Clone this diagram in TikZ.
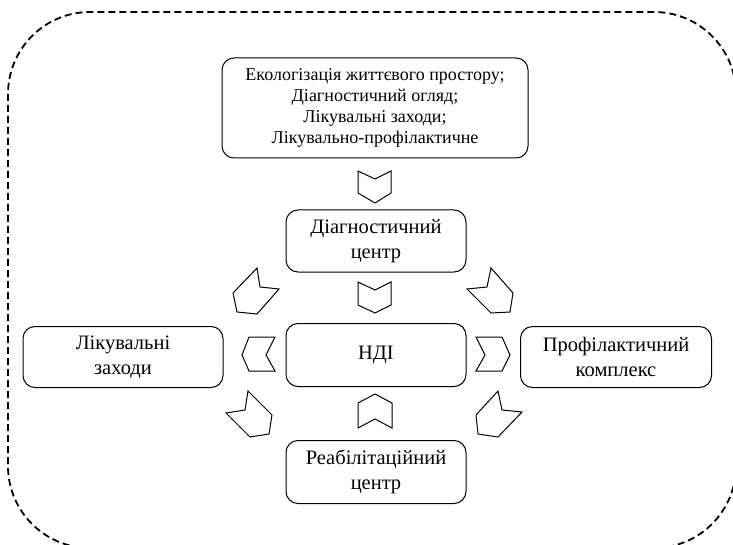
\documentclass[tikz,border=0pt]{standalone}
\usepackage{fontspec}
\setmainfont{Liberation Serif}
\begin{document}
\begin{tikzpicture}[x=1pt,y=-1pt,
  box/.style={draw, line width=1pt, rounded corners=12pt, align=center, font=\fontsize{20.5}{25}\selectfont},
  chev/.style={draw, line width=1pt, line join=miter}]
\useasboundingbox (0,0) rectangle (733,545);
\draw[line width=1.8pt, dash pattern=on 7pt off 4pt, rounded corners=82pt] (8,12) rectangle (736,548);
% boxes
\node[box, minimum width=306pt, minimum height=100pt, font=\fontsize{18}{21}\selectfont] (top) at (375,108)
  {Екологізація життєвого простору;\\Діагностичний огляд;\\Лікувальні заходи;\\Лікувально-профілактичне};
\node[box, minimum width=180pt, minimum height=62pt] (diag) at (376,241) {Діагностичний\\центр};
\node[box, minimum width=180pt, minimum height=63pt] (ndi) at (376,355) {НДІ};
\node[box, minimum width=200pt, minimum height=61pt] (lik) at (123,357) {Лікувальні\\заходи};
\node[box, minimum width=191pt, minimum height=61pt] (prof) at (616,357) {Профілактичний\\комплекс};
\node[box, minimum width=180pt, minimum height=63pt] (reab) at (376,472) {Реабілітаційний\\центр};
% vertical chevrons
\draw[chev] (358,171) -- (375,179) -- (391,171) -- (391,193) -- (375,203) -- (358,193) -- cycle;
\draw[chev] (358,282) -- (375,290) -- (391,282) -- (391,305) -- (375,313) -- (358,305) -- cycle;
\draw[chev] (375,394) -- (392,403) -- (392,428) -- (375,419) -- (358,428) -- (358,403) -- cycle;
% horizontal chevrons
\draw[chev] (242,355) -- (249,337) -- (275,337) -- (266,355) -- (275,371) -- (249,371) -- cycle;
\draw[chev] (476,337) -- (502,337) -- (510,355) -- (502,371) -- (476,371) -- (485,355) -- cycle;
% diagonal chevrons
\draw[chev] (257,268) -- (260,287) -- (279,289) -- (257,314) -- (237,312) -- (233,293) -- cycle;
\draw[chev] (491,268) -- (487,287) -- (467,289) -- (491,313) -- (510,312) -- (513,293) -- cycle;
\draw[chev] (248,391) -- (245,410) -- (226,413) -- (250,437) -- (269,434) -- (272,415) -- cycle;
\draw[chev] (498,391) -- (502,410) -- (522,412) -- (498,437) -- (478,434) -- (476,415) -- cycle;
\end{tikzpicture}
\end{document}
